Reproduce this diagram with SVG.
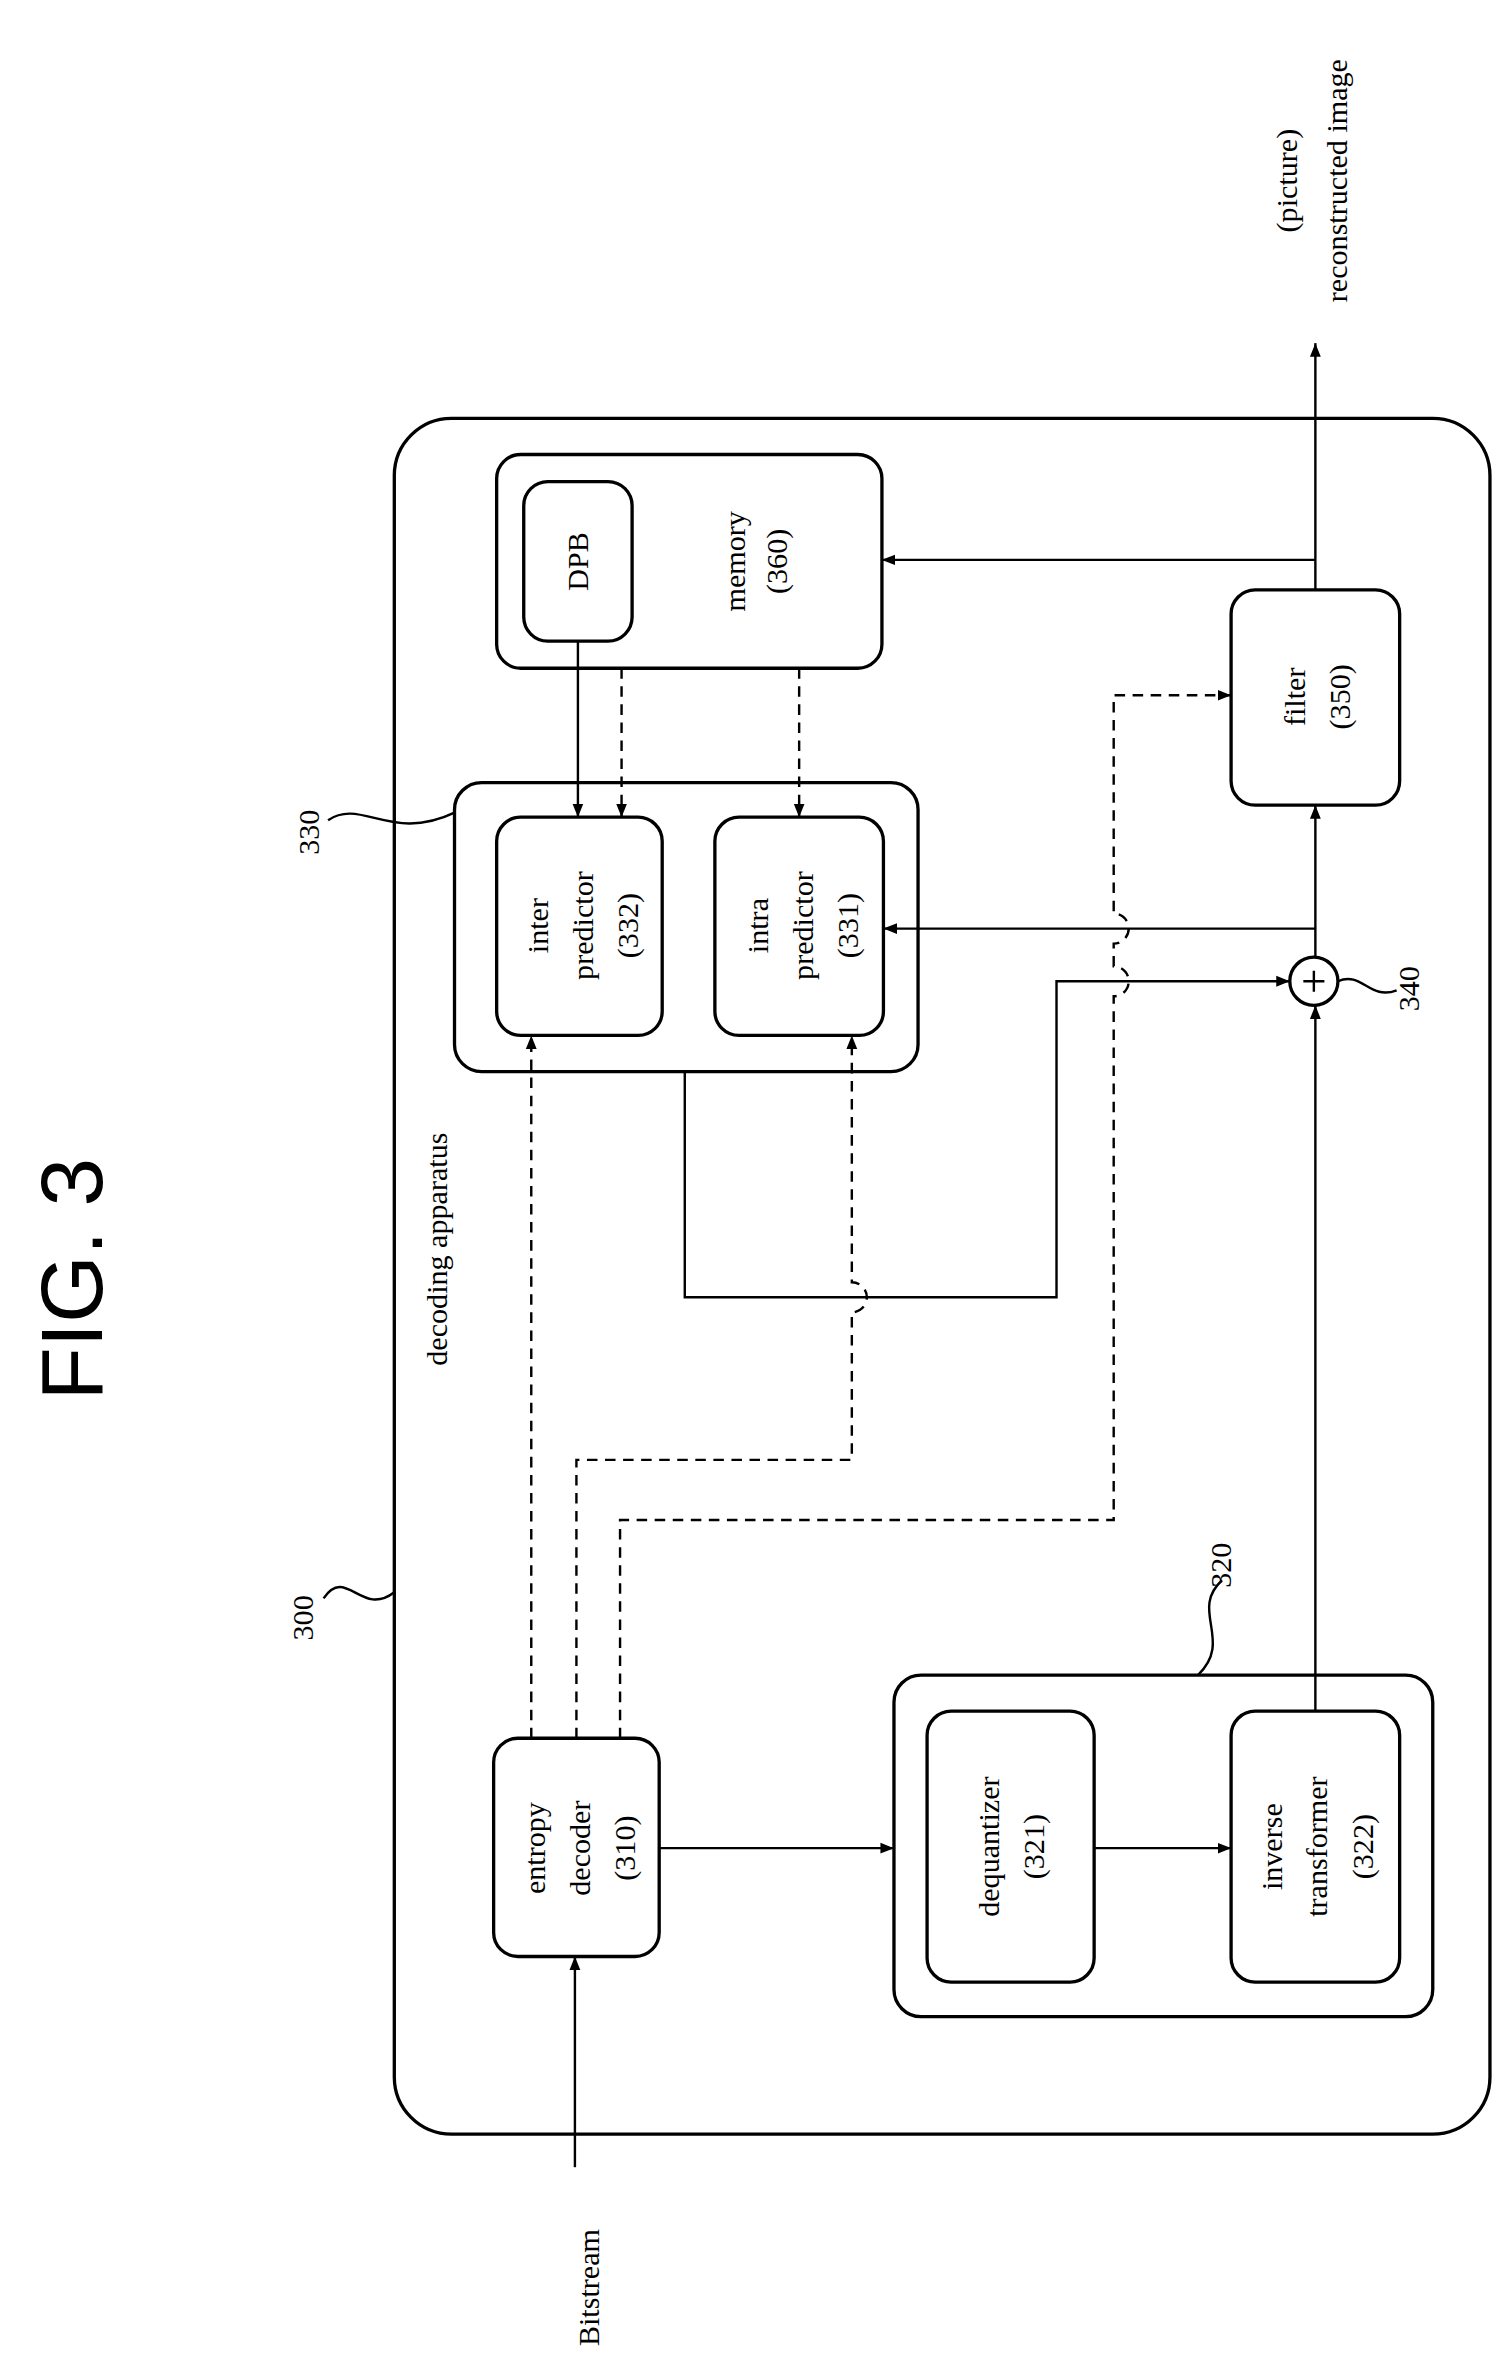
<svg xmlns="http://www.w3.org/2000/svg" width="1505" height="2364" viewBox="0 0 1505 2364">
<defs>
<marker id="ah" viewBox="0 0 10 10" refX="10" refY="5" markerWidth="9" markerHeight="9" markerUnits="userSpaceOnUse" orient="auto"><path d="M0,1 L10,5 L0,9 z" fill="#000"/></marker>
</defs>
<style>
.b{fill:#fff;stroke:#000;stroke-width:2.2}
.l{fill:none;stroke:#000;stroke-width:1.6}
.d{fill:none;stroke:#000;stroke-width:1.6;stroke-dasharray:7 5}
text{font-family:"Liberation Serif",serif;font-size:20px;text-anchor:middle;fill:#000}
.fig{font-family:"Liberation Sans",sans-serif;font-size:58px}
</style>
<rect width="1505" height="2364" fill="#fff"/>
<g transform="scale(1.505)">
<g id="outer"><rect class="b" x="262" y="278" width="728" height="1140" rx="38"/></g>
<g id="memory"><rect class="b" x="330" y="302" width="256" height="142" rx="16"/>
<text transform="translate(509,373) rotate(-90)"><tspan x="0" y="-14">memory</tspan><tspan x="0" y="14">(360)</tspan></text></g>
<g id="dpb"><rect class="b" x="348" y="320" width="72" height="106" rx="16"/>
<text transform="translate(391,373) rotate(-90)">DPB</text></g>
<g id="g330"><rect class="b" x="302" y="520" width="308" height="192" rx="18"/></g>
<g id="inter"><rect class="b" x="330" y="543" width="110" height="145" rx="16"/>
<text transform="translate(392,615) rotate(-90)"><tspan x="0" y="-28">inter</tspan><tspan x="0" y="2">predictor</tspan><tspan x="0" y="32">(332)</tspan></text></g>
<g id="intra"><rect class="b" x="475" y="543" width="112" height="145" rx="16"/>
<text transform="translate(538,615) rotate(-90)"><tspan x="0" y="-28">intra</tspan><tspan x="0" y="2">predictor</tspan><tspan x="0" y="32">(331)</tspan></text></g>
<g id="filter"><rect class="b" x="818" y="392" width="112" height="143" rx="16"/>
<text transform="translate(881,463) rotate(-90)"><tspan x="0" y="-14">filter</tspan><tspan x="0" y="16">(350)</tspan></text></g>
<g id="adder"><circle class="b" cx="873" cy="652" r="16"/><path class="l" d="M866,652H880M873,645V659"/></g>
<g id="entropy"><rect class="b" x="328" y="1155" width="110" height="145" rx="16"/>
<text transform="translate(390,1228) rotate(-90)"><tspan x="0" y="-28">entropy</tspan><tspan x="0" y="2">decoder</tspan><tspan x="0" y="32">(310)</tspan></text></g>
<g id="g320"><rect class="b" x="594" y="1113" width="358" height="227" rx="18"/></g>
<g id="deq"><rect class="b" x="616" y="1137" width="111" height="180" rx="16"/>
<text transform="translate(678,1227) rotate(-90)"><tspan x="0" y="-14">dequantizer</tspan><tspan x="0" y="16">(321)</tspan></text></g>
<g id="inv"><rect class="b" x="818" y="1137" width="112" height="180" rx="16"/>
<text transform="translate(880,1227) rotate(-90)"><tspan x="0" y="-28">inverse</tspan><tspan x="0" y="2">transformer</tspan><tspan x="0" y="32">(322)</tspan></text></g>
<g id="connectors">
<path class="l" d="M382,1440V1300" marker-end="url(#ah)"/>
<path class="l" d="M438,1228H594" marker-end="url(#ah)"/>
<path class="l" d="M727,1228H818" marker-end="url(#ah)"/>
<path class="l" d="M874,1137V668" marker-end="url(#ah)"/>
<path class="l" d="M874,636V535" marker-end="url(#ah)"/>
<path class="l" d="M874,617H587" marker-end="url(#ah)"/>
<path class="l" d="M874,392V228" marker-end="url(#ah)"/>
<path class="l" d="M874,372H586" marker-end="url(#ah)"/>
<path class="l" d="M384,426V543" marker-end="url(#ah)"/>
<path class="d" d="M413,444V543" marker-end="url(#ah)"/>
<path class="d" d="M531,444V543" marker-end="url(#ah)"/>
<path class="l" d="M455,712V862H702V652H857" marker-end="url(#ah)"/>
<path class="d" d="M353,1155V688" marker-end="url(#ah)"/>
<path class="d" d="M383,1155V970H566V872A10,10 0 0 0 566,852V688" marker-end="url(#ah)"/>
<path class="d" d="M412,1155V1010H740V662A10,10 0 0 0 740,642V627A10,10 0 0 0 740,607V462H818" marker-end="url(#ah)"/>
</g>
<g id="labels">
<text class="fig" transform="translate(68,850) rotate(-90)">FIG. 3</text>
<text transform="translate(297,830) rotate(-90)">decoding apparatus</text>
<text transform="translate(398,1520) rotate(-90)">Bitstream</text>
<text transform="translate(862,120) rotate(-90)">(picture)</text>
<text transform="translate(895,120) rotate(-90)">reconstructed image</text>
<text transform="translate(208,1075) rotate(-90)">300</text>
<path class="l" d="M215,1062C230,1040 240,1075 262,1058"/>
<text transform="translate(212,553) rotate(-90)">330</text>
<path class="l" d="M218,545C240,530 260,560 302,540"/>
<text transform="translate(818,1040) rotate(-90)">320</text>
<path class="l" d="M812,1050C790,1070 820,1090 796,1113"/>
<text transform="translate(943,657) rotate(-90)">340</text>
<path class="l" d="M889,652C905,645 910,665 928,658"/>
</g>
</g>
</svg>
